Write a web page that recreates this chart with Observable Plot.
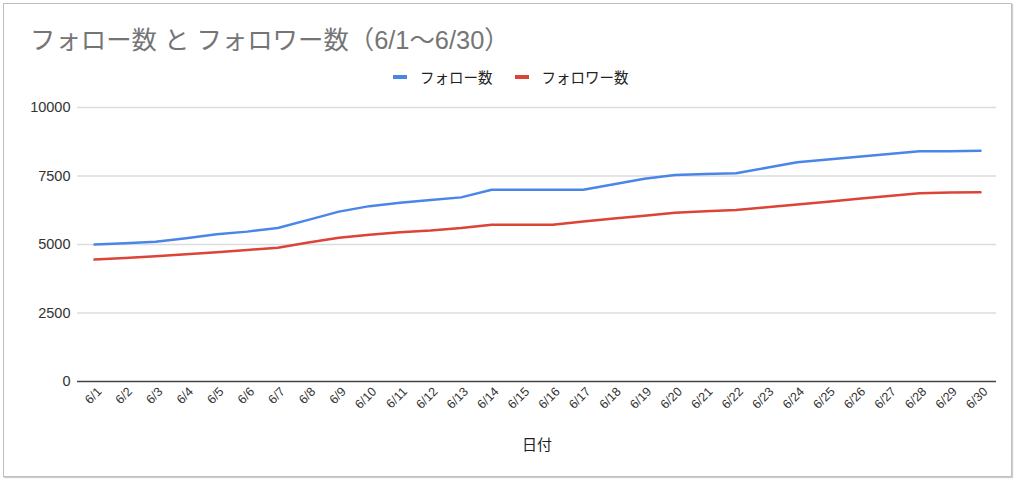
<!DOCTYPE html>
<html>
<head>
<meta charset="utf-8">
<script src="https://cdn.jsdelivr.net/npm/d3@7"></script>
<script src="https://cdn.jsdelivr.net/npm/@observablehq/plot@0.6"></script>
<style>
  html, body { margin: 0; padding: 0; background: #fff; }
  body { font-family: "Liberation Sans", Arial, "Noto Sans CJK JP", sans-serif; }
  #wrap { position: relative; width: 1024px; height: 483px; overflow: hidden; }
  #frame { position: absolute; left: 3px; top: 3px; width: 1007px; height: 472px; border: 1px solid #bfbfbf; box-shadow: 1px 1px 1px #cfcfcf; }
  #title { position: absolute; left: 30px; top: 20px; font-size: 25.4px; color: #757575; white-space: nowrap; }
  #legend { position: absolute; left: 393px; top: 66px; display: flex; align-items: center; font-size: 14.5px; color: #222; white-space: nowrap; }
  .sw { display: inline-block; width: 14px; height: 4px; margin-right: 13px; }
  .item { display: flex; align-items: center; margin-right: 22px; }
  #chart { position: absolute; left: 0; top: 95px; }
</style>
</head>
<body>
<div id="wrap">
  <div id="frame"></div>
  <div id="title">フォロー数 と フォロワー数（6/1〜6/30）</div>
  <div id="legend"></div>
  <div id="chart"></div>
</div>
<script>
const dates = ["6/1","6/2","6/3","6/4","6/5","6/6","6/7","6/8","6/9","6/10","6/11","6/12","6/13","6/14","6/15","6/16","6/17","6/18","6/19","6/20","6/21","6/22","6/23","6/24","6/25","6/26","6/27","6/28","6/29","6/30"];
const follows = [5000,5050,5100,5230,5370,5470,5600,5900,6200,6400,6520,6620,6720,7000,7000,7000,7000,7200,7400,7540,7570,7600,7800,8000,8100,8200,8300,8400,8400,8420];
const followers = [4450,4510,4570,4640,4720,4800,4880,5070,5250,5360,5450,5510,5600,5720,5720,5720,5840,5950,6050,6160,6210,6260,6360,6460,6560,6670,6770,6870,6900,6910];
const seriesNames = ["フォロー数", "フォロワー数"];
const seriesColors = ["#4a86e8", "#db4437"];
const yTicks = [0, 2500, 5000, 7500, 10000];
const xLabel = "日付";

const rows = [];
dates.forEach((d, i) => {
  rows.push({date: d, value: follows[i], series: seriesNames[0]});
  rows.push({date: d, value: followers[i], series: seriesNames[1]});
});

// legend
const legend = document.getElementById("legend");
seriesNames.forEach((n, i) => {
  const it = document.createElement("div");
  it.className = "item";
  const sw = document.createElement("span");
  sw.className = "sw";
  sw.style.background = seriesColors[i];
  const tx = document.createElement("span");
  tx.textContent = n;
  it.appendChild(sw); it.appendChild(tx);
  legend.appendChild(it);
});

const chart = Plot.plot({
  width: 1024,
  height: 370,
  marginTop: 12,
  marginBottom: 84,
  marginLeft: 77,
  marginRight: 28,
  style: {fontFamily: '"Liberation Sans", Arial, "Noto Sans CJK JP", sans-serif', fontSize: "13px", color: "#333", background: "transparent"},
  x: {type: "point", domain: dates, range: [94, 980], padding: 0, round: false},
  y: {domain: [0, 10000]},
  color: {domain: seriesNames, range: seriesColors},
  marks: [
    Plot.ruleY(yTicks.filter(t => t > 0), {stroke: "#dcdcdc", strokeWidth: 1.5}),
    Plot.ruleY([0], {stroke: "#444", strokeWidth: 1.5}),
    Plot.axisY(yTicks, {tickSize: 0, tickPadding: 7, fontSize: 14.5, tickFormat: d => String(d), label: null}),
    Plot.axisX({tickRotate: -45, tickSize: 0, tickPadding: 8, dx: 5, fontSize: 12.5, label: null}),
    Plot.text([xLabel], {frameAnchor: "bottom", dy: 64, lineAnchor: "middle", fontSize: 15, fill: "#222"}),
    Plot.line(rows, {x: "date", y: "value", z: "series", stroke: "series", strokeWidth: 2.5})
  ]
});
document.getElementById("chart").appendChild(chart);
</script>
</body>
</html>
